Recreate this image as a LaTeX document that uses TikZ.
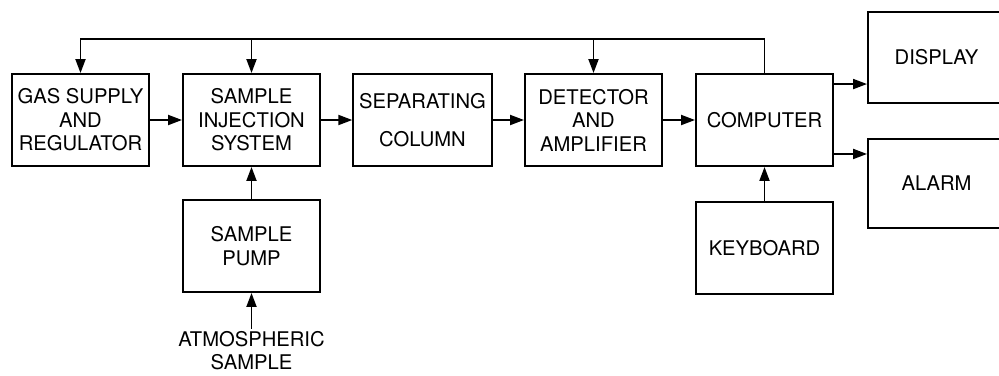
\documentclass[tikz,border=0pt]{standalone}
\usepackage{fontspec}
\setmainfont{TeX Gyre Heros}
\usetikzlibrary{arrows.meta,calc,positioning}

\begin{document}
\begin{tikzpicture}[->,>={Triangle[length=2.8mm,width=2mm]},line width=1.1pt,node distance=3.42cm,
	block/.style={draw,-,minimum width=2.74cm,minimum height=1.84cm,align=center,font=\fontsize{11.5}{13.4}\selectfont}]
	  \useasboundingbox (0,0) rectangle (19.98,-7.5);
	  \node[block] (gas) at (1.61,-2.40) {GAS SUPPLY\\AND\\REGULATOR};
	  \node[block] (inj) [right of=gas] {SAMPLE\\INJECTION\\SYSTEM};
	  \node[block] (sep) [right of=inj] {SEPARATING\\[0.29cm]COLUMN};
	  \node[block] (det) [right of=sep] {DETECTOR\\AND\\AMPLIFIER};
	  \node[block] (comp) [right of=det] {COMPUTER};
	  \node[block] (pump) [below of=inj,node distance=2.52cm] {SAMPLE\\PUMP};
	  \node[block] (kbd) [below of=comp,node distance=2.56cm] {KEYBOARD};
	  \node[block,minimum height=1.82cm] (disp) at (18.73,-1.15) {DISPLAY};
	  \node[block,minimum height=1.78cm] (alarm) [below of=disp,node distance=2.52cm] {ALARM};
	  \node[align=center,inner sep=0.1cm,font=\fontsize{11.5}{13.2}\selectfont] (atm) [below of=pump,node distance=2.1cm] {ATMOSPHERIC\\SAMPLE};

	  \coordinate (fb) at ([yshift=0.68cm]comp.north);
	  \coordinate (c1) at ([yshift=-0.22cm]comp.north east);
	  \coordinate (c2) at ([yshift=0.26cm]comp.south east);

	  \draw (comp.north) -- (fb) -| (gas.north);
	  \draw (inj.north |- fb) -- (inj.north);
	  \draw (det.north |- fb) -- (det.north);
	  \draw (gas) -- (inj);
	  \draw (inj) -- (sep);
	  \draw (sep) -- (det);
	  \draw (det) -- (comp);
	  \draw (pump) -- (inj);
	  \draw ([yshift=-0.06cm]atm.north) -- (pump);
	  \draw (kbd) -- (comp);
	  \draw (c1) -- (c1 -| disp.west);
	  \draw (c2) -- (c2 -| alarm.west);
	\end{tikzpicture}
\end{document}
